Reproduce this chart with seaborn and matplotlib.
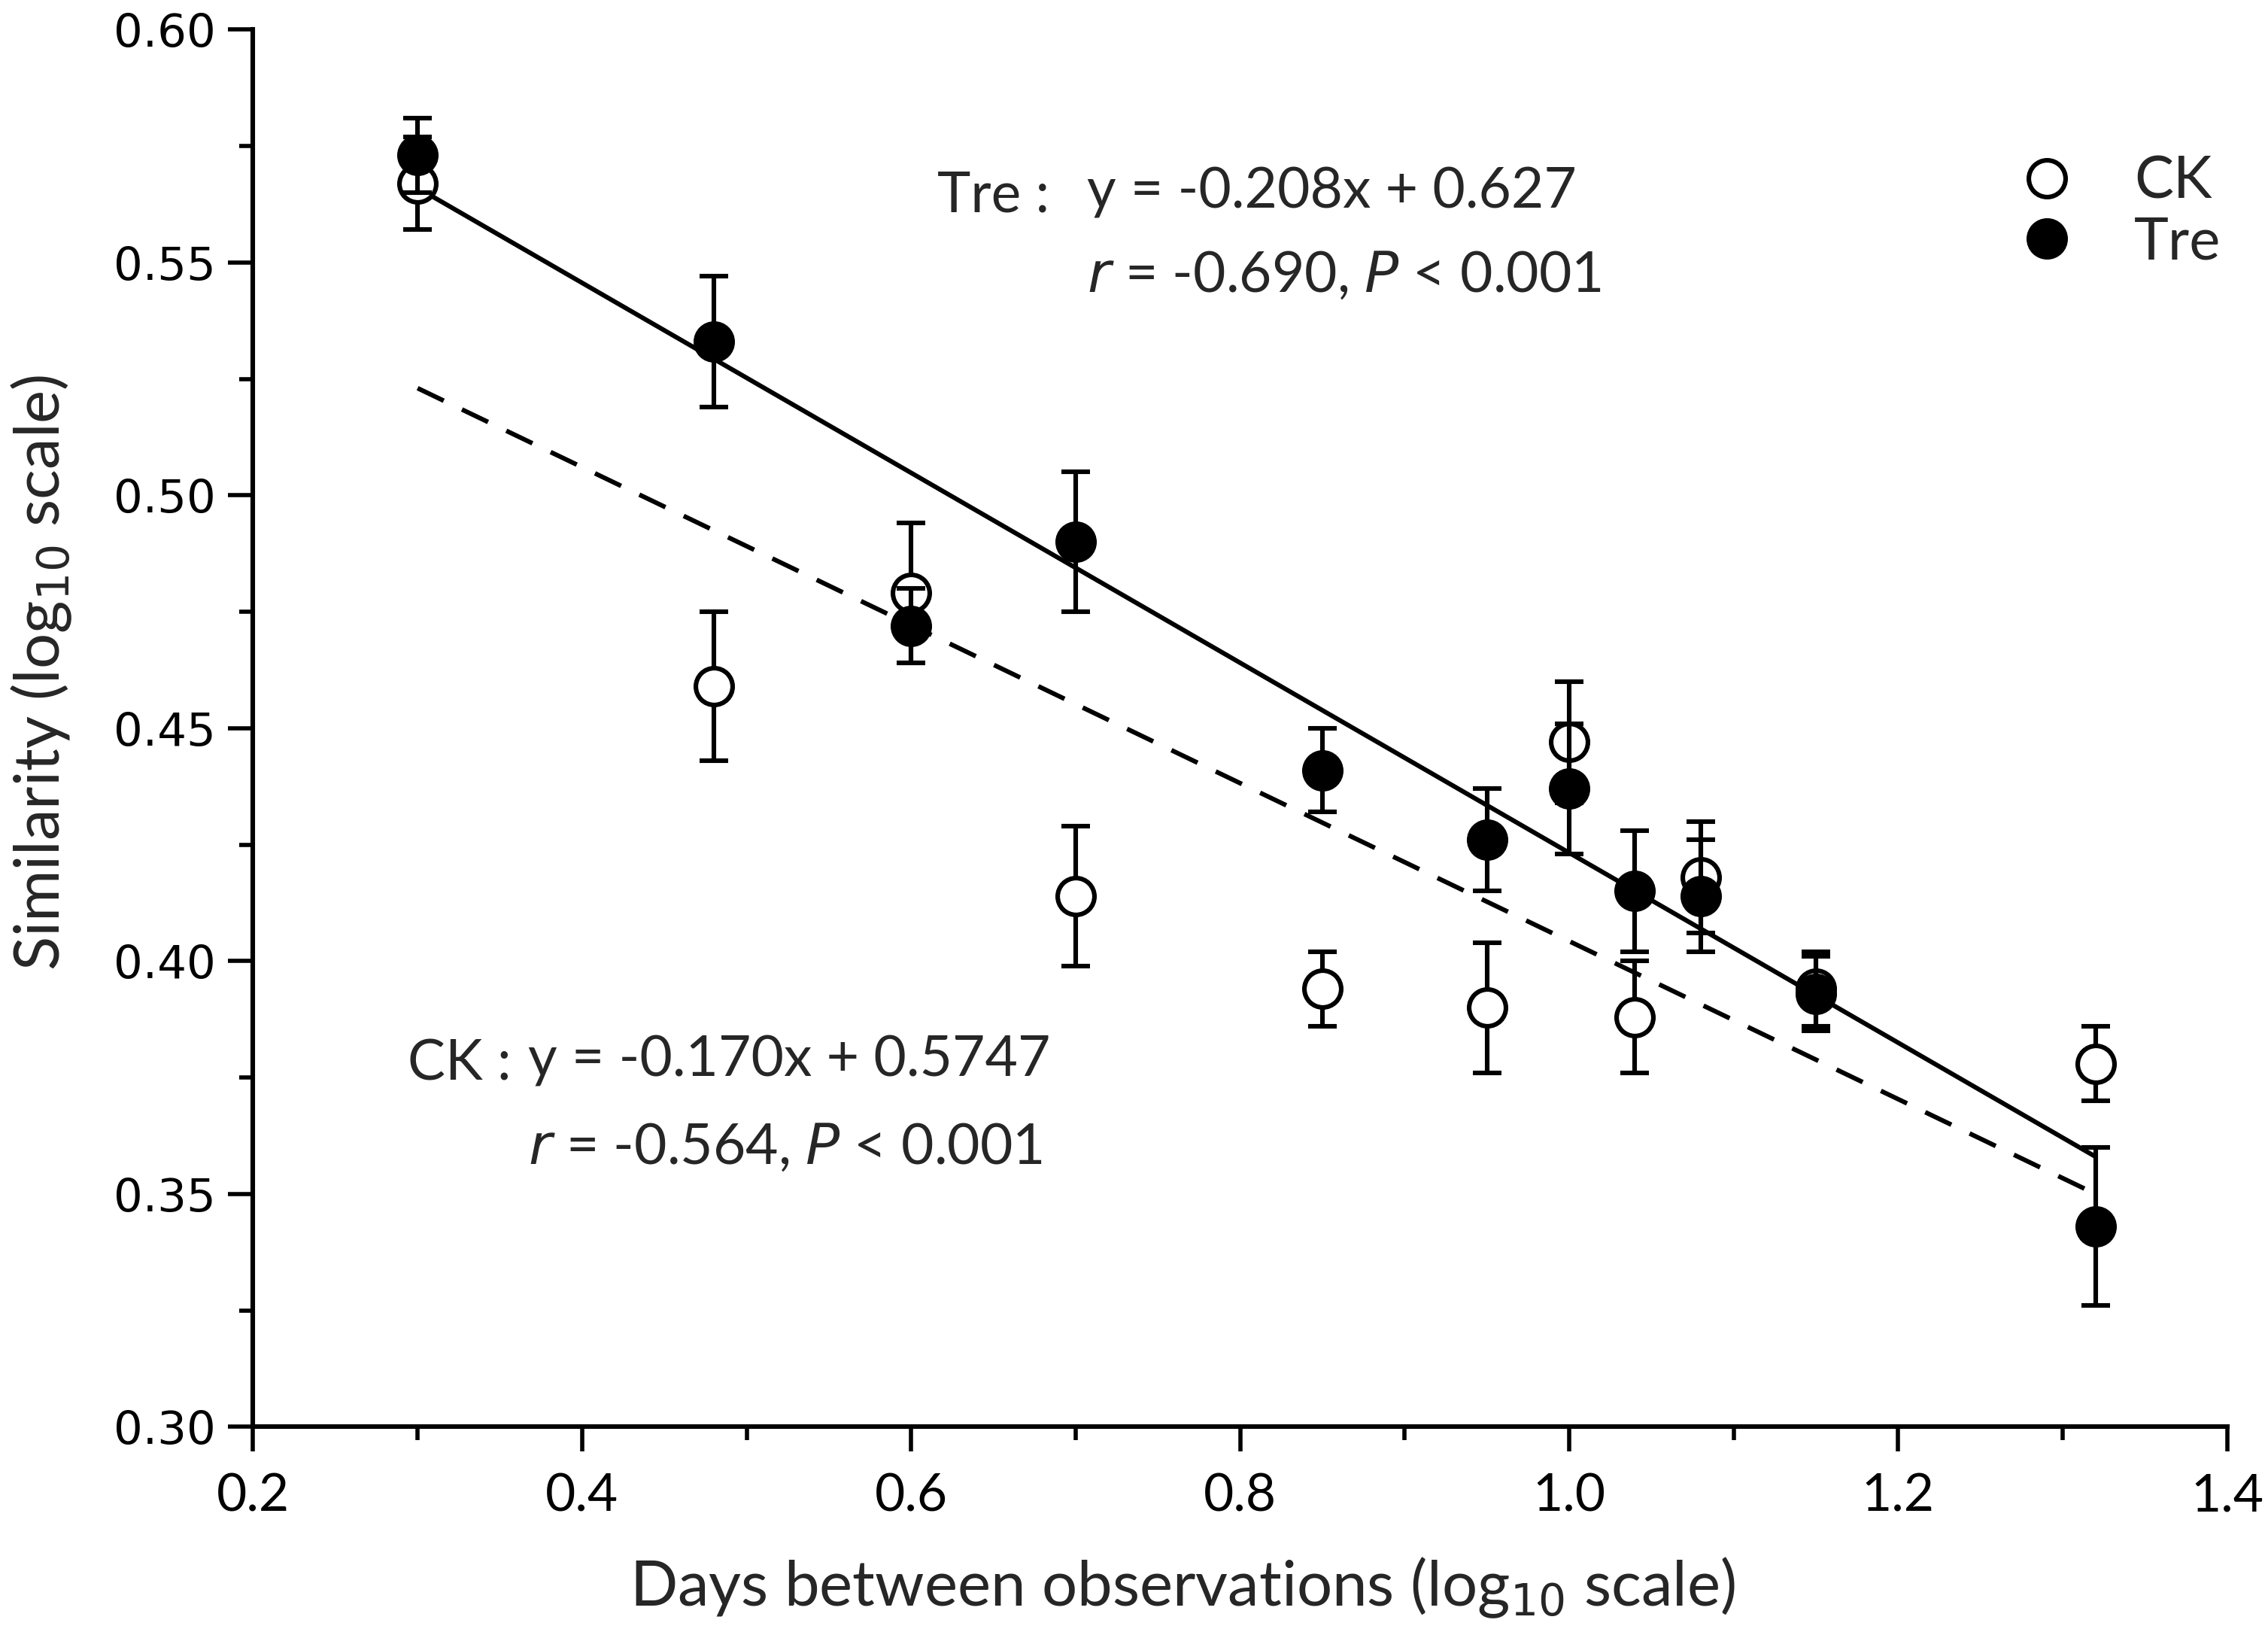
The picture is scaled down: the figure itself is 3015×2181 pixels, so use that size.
import numpy as np
import pandas as pd
import matplotlib
matplotlib.use("Agg")
import matplotlib.pyplot as plt
import seaborn as sns
from matplotlib.ticker import MultipleLocator, FormatStrFormatter
from matplotlib.lines import Line2D

# ---- data ----
days = [0.30, 0.48, 0.60, 0.70, 0.85, 0.95, 1.00, 1.04, 1.08, 1.15, 1.32]
ck_mean = [0.567, 0.459, 0.479, 0.414, 0.394, 0.390, 0.447, 0.388, 0.418, 0.394, 0.378]
ck_err = [0.010, 0.016, 0.015, 0.015, 0.008, 0.014, 0.013, 0.012, 0.012, 0.008, 0.008]
tre_mean = [0.573, 0.533, 0.472, 0.490, 0.441, 0.426, 0.437, 0.415, 0.414, 0.393, 0.343]
tre_err = [0.008, 0.014, 0.008, 0.015, 0.009, 0.011, 0.014, 0.013, 0.012, 0.008, 0.017]
fit_x = [0.30, 1.32]
tre_fit = [0.566, 0.358]
ck_fit = [0.523, 0.350]
legend_labels = ["CK", "Tre"]

sns.set_theme(style="ticks")
plt.rcParams['font.family'] = ['Liberation Sans', 'DejaVu Sans']

fig = plt.figure(figsize=(15.075, 10.905), dpi=200)
ax = fig.add_axes([0.1116, 0.1305, 0.8704, 0.8515])

df_ck = pd.DataFrame({"x": days, "y": ck_mean, "e": ck_err})
df_tre = pd.DataFrame({"x": days, "y": tre_mean, "e": tre_err})
df_fit = pd.DataFrame({"x": fit_x + fit_x,
                       "y": ck_fit + tre_fit,
                       "g": ["CK", "CK", "Tre", "Tre"]})

LW = 2.2
# fit lines
sns.lineplot(data=df_fit[df_fit.g == "CK"], x="x", y="y", ax=ax, color="black",
             lw=LW, linestyle=(0, (6.3, 4.4)), zorder=1)
sns.lineplot(data=df_fit[df_fit.g == "Tre"], x="x", y="y", ax=ax, color="black",
             lw=LW, zorder=1)

# error bars + markers
ax.errorbar(df_ck.x, df_ck.y, yerr=df_ck.e, fmt="none", ecolor="black",
            elinewidth=LW, capsize=7, capthick=LW, zorder=2)
sns.scatterplot(data=df_ck, x="x", y="y", ax=ax, marker="o", s=310,
                facecolor="white", edgecolor="black", linewidth=LW, zorder=3)
ax.errorbar(df_tre.x, df_tre.y, yerr=df_tre.e, fmt="none", ecolor="black",
            elinewidth=LW, capsize=7, capthick=LW, zorder=4)
sns.scatterplot(data=df_tre, x="x", y="y", ax=ax, marker="o", s=310,
                color="black", edgecolor="black", linewidth=LW, zorder=5)

ax.set_xlim(0.2, 1.4)
ax.set_ylim(0.30, 0.60)
ax.xaxis.set_major_locator(MultipleLocator(0.2))
ax.xaxis.set_minor_locator(MultipleLocator(0.1))
ax.yaxis.set_major_locator(MultipleLocator(0.05))
ax.yaxis.set_minor_locator(MultipleLocator(0.025))
ax.xaxis.set_major_formatter(FormatStrFormatter("%.1f"))
ax.yaxis.set_major_formatter(FormatStrFormatter("%.2f"))
ax.tick_params(axis="both", which="major", direction="out", length=12, width=2.0,
               color="black", labelcolor="black")
ax.tick_params(axis="x", which="major", pad=10)
ax.tick_params(axis="y", which="major", pad=6)
ax.tick_params(axis="both", which="minor", direction="out", length=6.5, width=2.0,
               color="black")
lab_font = ['Lato', 'DejaVu Sans']
for t in ax.get_xticklabels():
    t.set_family(lab_font)
    t.set_fontsize(25)
for t in ax.get_yticklabels():
    t.set_family(['DejaVu Sans'])
    t.set_fontsize(22)
for s in ["left", "bottom"]:
    ax.spines[s].set_linewidth(2.2)
    ax.spines[s].set_color("black")
sns.despine(ax=ax)

ax.set_xlabel(r"Days between observations (log$_{10}$ scale)", fontsize=30,
              family=lab_font)
ax.set_ylabel(r"Similarity (log$_{10}$ scale)", fontsize=30, family=lab_font)
ax.xaxis.set_label_coords(0.471, -0.092)
ax.yaxis.set_label_coords(-0.091, 0.54)

# annotations
AFS = 27
ax.text(0.616, 0.5643, "Tre :", fontsize=AFS, family=lab_font, va="center")
ax.text(0.707, 0.5650, "y = -0.208x + 0.627", fontsize=AFS, family=lab_font, va="center")
ax.text(0.707, 0.5472, r"$\it{r}$ = -0.690, $\it{P}$ < 0.001", fontsize=AFS,
        family=lab_font, va="center")
ax.text(0.294, 0.3780, "CK :", fontsize=AFS, family=lab_font, va="center")
ax.text(0.367, 0.3787, "y = -0.170x + 0.5747", fontsize=AFS, family=lab_font, va="center")
ax.text(0.367, 0.3600, r"$\it{r}$ = -0.564, $\it{P}$ < 0.001", fontsize=AFS,
        family=lab_font, va="center")

handles = [Line2D([], [], marker="o", linestyle="none", markersize=17.6,
                  markerfacecolor="white", markeredgecolor="black", markeredgewidth=LW),
           Line2D([], [], marker="o", linestyle="none", markersize=17.6,
                  markerfacecolor="black", markeredgecolor="black", markeredgewidth=LW)]
ax.legend(handles, legend_labels, loc="center left", bbox_to_anchor=(0.867, 0.869),
          frameon=False, prop={"family": lab_font, "size": 28},
          handlelength=1.0, handletextpad=1.0, labelspacing=0.12)

fig.savefig("out.png", dpi=200)
